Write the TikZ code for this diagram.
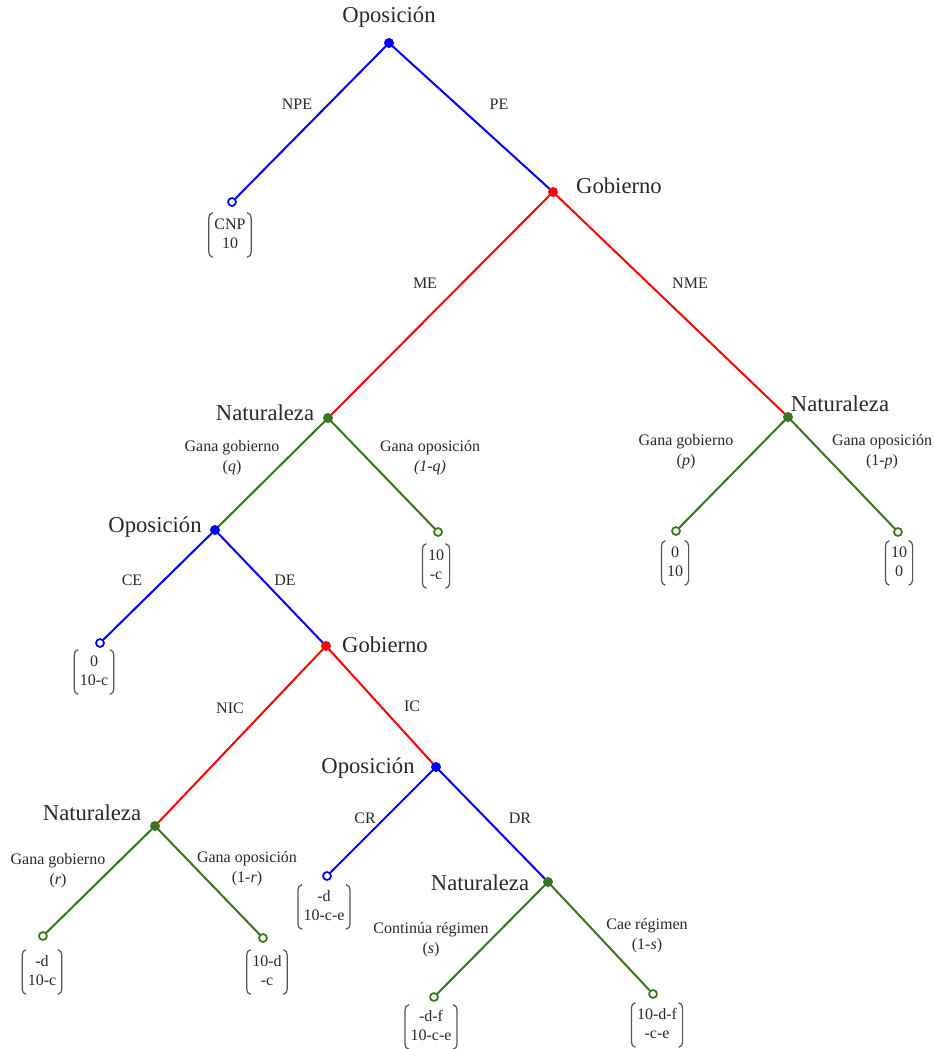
\documentclass[tikz,border=0pt]{standalone}
\usepackage{fontspec}
\setmainfont{Liberation Serif}
\definecolor{gblue}{RGB}{0,0,255}
\definecolor{gred}{RGB}{255,0,0}
\definecolor{ggreen}{RGB}{56,118,29}
\definecolor{txt}{RGB}{40,40,40}
\newcommand{\payv}[2]{\begin{tabular}{@{}c@{}}#1\\#2\end{tabular}}
\newcommand{\brk}[1]{%
  \draw[brkline] ([xshift=3pt]#1.north west) to[out=180,in=90] ([yshift=-4pt]#1.north west)
     -- ([yshift=4pt]#1.south west) to[out=-90,in=180] ([xshift=3pt]#1.south west);
  \draw[brkline] ([xshift=-3pt]#1.north east) to[out=0,in=90] ([yshift=-4pt]#1.north east)
     -- ([yshift=4pt]#1.south east) to[out=-90,in=0] ([xshift=-3pt]#1.south east);}
\begin{document}
\begin{tikzpicture}[x=0.75pt,y=-0.75pt,
  dotn/.style={circle,fill=#1,inner sep=0pt,minimum size=7.5pt},
  leafn/.style={circle,draw=#1,fill=white,line width=1.3pt,inner sep=0pt,minimum size=6pt},
  edge/.style={line width=1.5pt},
  player/.style={font=\fontsize{17}{20}\selectfont,text=txt,inner sep=0pt},
  lab/.style={font=\fontsize{12}{15}\selectfont,align=center,text=txt,inner sep=0pt},
  pay/.style={font=\fontsize{12}{14}\selectfont,text=txt,inner xsep=4pt,inner ysep=2.5pt},
  brkline/.style={draw=txt!80,line width=0.9pt}]
\useasboundingbox (0,0) rectangle (934,1049);
% edges (drawn below the nodes)
\coordinate (co1) at (389,43);
\coordinate (cg1) at (553,192);
\coordinate (cn1) at (328,418);
\coordinate (cn2) at (788,417);
\coordinate (co2) at (215,530);
\coordinate (cg2) at (326,646);
\coordinate (cn3) at (155,826);
\coordinate (co3) at (436,767);
\coordinate (cn4) at (548,882);
\coordinate (cl1) at (232,202);
\coordinate (cl2) at (438,532);
\coordinate (cl3) at (676,531);
\coordinate (cl4) at (898,532);
\coordinate (cl5) at (100,643);
\coordinate (cl6) at (43,936);
\coordinate (cl7) at (263,938);
\coordinate (cl8) at (327,876);
\coordinate (cl9) at (434,997);
\coordinate (cl10) at (653,994);
\draw[edge,gblue] (co1) -- (cl1);
\draw[edge,gblue] (co1) -- (cg1);
\draw[edge,gred] (cg1) -- (cn1);
\draw[edge,gred] (cg1) -- (cn2);
\draw[edge,ggreen] (cn1) -- (co2);
\draw[edge,ggreen] (cn1) -- (cl2);
\draw[edge,ggreen] (cn2) -- (cl3);
\draw[edge,ggreen] (cn2) -- (cl4);
\draw[edge,gblue] (co2) -- (cl5);
\draw[edge,gblue] (co2) -- (cg2);
\draw[edge,gred] (cg2) -- (cn3);
\draw[edge,gred] (cg2) -- (co3);
\draw[edge,ggreen] (cn3) -- (cl6);
\draw[edge,ggreen] (cn3) -- (cl7);
\draw[edge,gblue] (co3) -- (cl8);
\draw[edge,gblue] (co3) -- (cn4);
\draw[edge,ggreen] (cn4) -- (cl9);
\draw[edge,ggreen] (cn4) -- (cl10);
% decision nodes
\node[dotn=gblue] (o1) at (co1) {};
\node[dotn=gred] (g1) at (cg1) {};
\node[dotn=ggreen] (n1) at (cn1) {};
\node[dotn=ggreen] (n2) at (cn2) {};
\node[dotn=gblue] (o2) at (co2) {};
\node[dotn=gred] (g2) at (cg2) {};
\node[dotn=ggreen] (n3) at (cn3) {};
\node[dotn=gblue] (o3) at (co3) {};
\node[dotn=ggreen] (n4) at (cn4) {};
% leaves
\node[leafn=gblue] (l1) at (cl1) {};
\node[leafn=ggreen] (l2) at (cl2) {};
\node[leafn=ggreen] (l3) at (cl3) {};
\node[leafn=ggreen] (l4) at (cl4) {};
\node[leafn=gblue] (l5) at (cl5) {};
\node[leafn=ggreen] (l6) at (cl6) {};
\node[leafn=ggreen] (l7) at (cl7) {};
\node[leafn=gblue] (l8) at (cl8) {};
\node[leafn=ggreen] (l9) at (cl9) {};
\node[leafn=ggreen] (l10) at (cl10) {};
% player names
\node[player] (po1) at (389,17) {Oposición};
\node[player] (pg1) at (619,186) {Gobierno};
\node[player] (pn1) at (265,413) {Naturaleza};
\node[player] (pn2) at (840,404) {Naturaleza};
\node[player] (po2) at (155,527) {Oposición};
\node[player] (pg2) at (385,645) {Gobierno};
\node[player] (pn3) at (92,813) {Naturaleza};
\node[player] (po3) at (368,768) {Oposición};
\node[player] (pn4) at (480,883) {Naturaleza};
% action labels
\node[lab] (a1) at (297,104) {NPE};
\node[lab] (a2) at (499,104) {PE};
\node[lab] (a3) at (425,283) {ME};
\node[lab] (a4) at (690,283) {NME};
\node[lab] (a5) at (232,458) {Gana gobierno\\(\textit{q})};
\node[lab] (a6) at (430,458) {Gana oposición\\\textit{(1-q)}};
\node[lab] (a7) at (686,452) {Gana gobierno\\(\textit{p})};
\node[lab] (a8) at (882,452) {Gana oposición\\(1-\textit{p})};
\node[lab] (a9) at (132,580) {CE};
\node[lab] (a10) at (285,580) {DE};
\node[lab] (a11) at (230,708) {NIC};
\node[lab] (a12) at (412,706) {IC};
\node[lab] (a13) at (365,818) {CR};
\node[lab] (a14) at (520,818) {DR};
\node[lab] (a15) at (58,871) {Gana gobierno\\(\textit{r})};
\node[lab] (a16) at (247,869) {Gana oposición\\(1-\textit{r})};
\node[lab] (a17) at (431,940) {Continúa régimen\\(\textit{s})};
\node[lab] (a18) at (647,936) {Cae régimen\\(1-\textit{s})};
% payoffs
\node[pay] (p1) at (230,235) {\payv{CNP}{10}};
\node[pay] (p2) at (436,566) {\payv{10}{-c}};
\node[pay] (p3) at (675,563) {\payv{0}{10}};
\node[pay] (p4) at (899,563) {\payv{10}{0}};
\node[pay] (p5) at (94,672) {\payv{0}{10-c}};
\node[pay] (p6) at (42,972) {\payv{-d}{10-c}};
\node[pay] (p7) at (267,972) {\payv{10-d}{-c}};
\node[pay] (p8) at (324,907) {\payv{-d}{10-c-e}};
\node[pay] (p9) at (431,1027) {\payv{-d-f}{10-c-e}};
\node[pay] (p10) at (657,1025) {\payv{10-d-f}{-c-e}};
\brk{p1}\brk{p2}\brk{p3}\brk{p4}\brk{p5}
\brk{p6}\brk{p7}\brk{p8}\brk{p9}\brk{p10}
\end{tikzpicture}
\end{document}
